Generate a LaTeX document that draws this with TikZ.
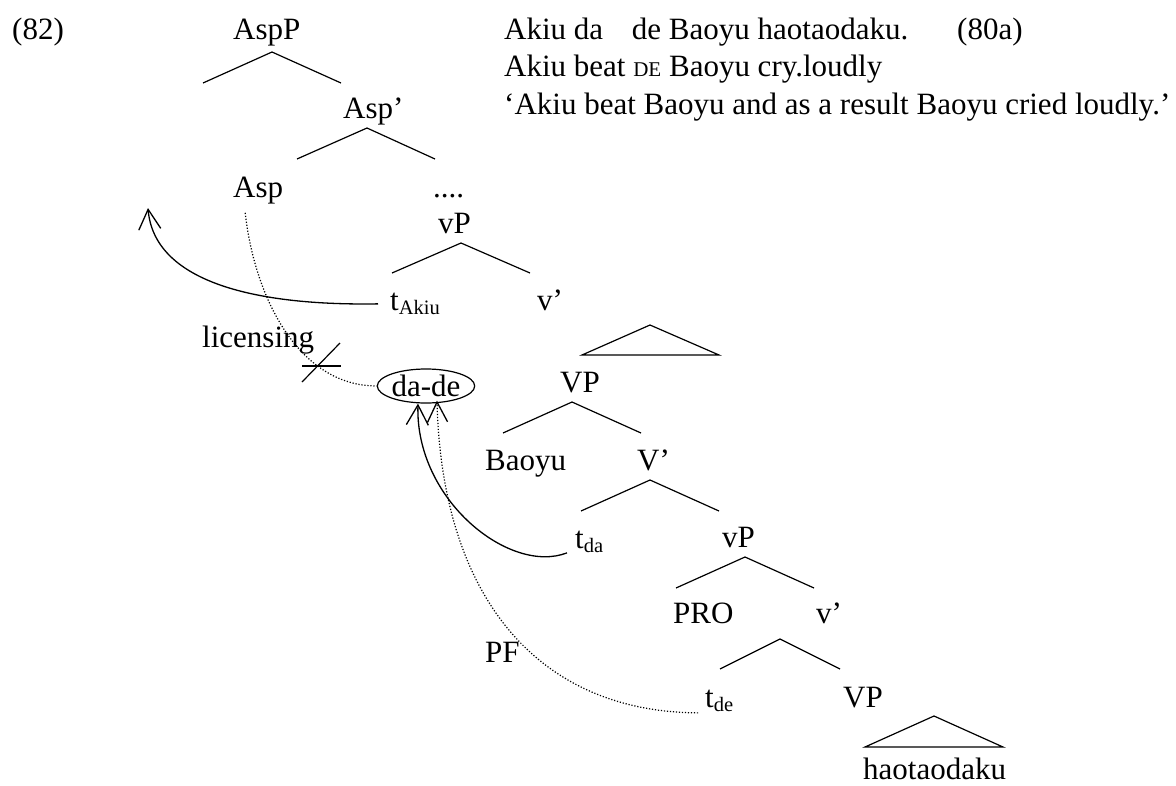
\documentclass[tikz,border=0pt]{standalone}
\usepackage{fontspec}
\setmainfont{Liberation Serif}
\usetikzlibrary{shapes.geometric,arrows.meta}
\newcommand{\lsub}[1]{\raisebox{-0.16em}{\fontsize{20.5}{22}\selectfont #1}}
\newcommand{\mybranch}[4]{%
  \coordinate (#1t) at #2; \coordinate (#1l) at #3; \coordinate (#1r) at #4;
  \draw[br] (#1l) -- (#1t) -- (#1r);}
\newcommand{\mytri}[4]{%
  \coordinate (#1t) at #2; \coordinate (#1l) at #3; \coordinate (#1r) at #4;
  \draw[br] (#1l) -- (#1t) -- (#1r) -- cycle;}
\begin{document}
\begin{tikzpicture}[x=1pt,y=-1pt,
  every node/.style={font=\fontsize{31}{38}\selectfont, inner sep=0pt},
  lbl/.style={anchor=base west},
  br/.style={line width=1.2pt, line join=miter},
  mv/.style={line width=1.3pt, -{Straight Barb[length=20pt,width=22pt,line width=1.3pt]}},
  dotl/.style={line width=1.2pt, dash pattern=on 1.2pt off 1.8pt},
  dota/.style={dotl, -{Straight Barb[length=20pt,width=20pt,line width=1.3pt]}},
  circ/.style={ellipse, draw, line width=1.2pt, minimum width=97pt, minimum height=34pt, inner sep=0pt}]
\useasboundingbox (0,0) rectangle (1176,785);

% example text
\node[lbl] (ex) at (12,39) {(82)};
\node[lbl] (g1) at (504,39) {Akiu da\hspace*{21pt} de Baoyu haotaodaku.};
\node[lbl] (num) at (957,39) {(80a)};
\node[lbl] (g2) at (504,76) {Akiu beat {\fontsize{21}{24}\selectfont DE} Baoyu cry.loudly};
\node[lbl] (g3) at (504,114) {‘Akiu beat Baoyu and as a result Baoyu cried loudly.’};

% tree labels
\node[lbl] (AspP) at (233,39) {AspP};
\node[lbl] (Aspbar) at (343,118) {Asp’};
\node[lbl] (Asp) at (233,197) {Asp};
\node[lbl] (dots) at (433,197) {....};
\node[lbl] (vP1) at (438,233) {vP};
\node[lbl] (tAkiu) at (390,310) {t\lsub{Akiu}};
\node[lbl] (vbar1) at (537,310) {v’};
\node[circ] (dade) at (426,386) {da-de};
\node[lbl] (VP1) at (560,392) {VP};
\node[lbl] (Baoyu) at (485,470) {Baoyu};
\node[lbl] (Vbar) at (637,470) {V’};
\node[lbl] (tda) at (575,548) {t\lsub{da}};
\node[lbl] (vP2) at (722,547) {vP};
\node[lbl] (PRO) at (673,623) {PRO};
\node[lbl] (vbar2) at (816,623) {v’};
\node[lbl] (tde) at (705,707) {t\lsub{de}};
\node[lbl] (VP2) at (843,707) {VP};
\node[lbl] (hao) at (863,779) {haotaodaku};
\node[lbl] (PF) at (485,662) {PF};
\node[lbl] (lic) at (202,347) {licensing};

% branches
\mybranch{b1}{(272,52)}{(203,83)}{(341,83)}
\mybranch{b2}{(367,128)}{(297,159)}{(435,159)}
\mybranch{b3}{(461,243)}{(392,273)}{(530,273)}
\mytri{t1}{(650,325)}{(582,355)}{(719,355)}
\mybranch{b4}{(572,402)}{(503,433)}{(641,433)}
\mybranch{b5}{(650,480)}{(581,511)}{(719,511)}
\mybranch{b6}{(745,557)}{(676,588)}{(814,588)}
\mybranch{b7}{(780,639)}{(720,669)}{(840,669)}
\mytri{t2}{(934,716)}{(865,747)}{(1003,747)}

% movement arrows
\coordinate (land) at (148,208);
\draw[mv] ([xshift=-12pt]tAkiu.west) .. controls (250,306) and (154,280) .. (land);
\draw[mv] ([shift={(-8,11)}]tda.west) .. controls (510,575) and (415,500) .. ([xshift=-8pt]dade.south);
\draw[dota] ([shift={(-7,12)}]tde.west) .. controls (540,712) and (442,600) .. ([shift={(11,-3)}]dade.south);

% licensing
\draw[dotl] ([shift={(-13,9)}]Asp.south) .. controls (255,300) and (300,386) .. (dade.west);
\coordinate (x1) at (302,382); \coordinate (x2) at (340,343);
\coordinate (x3) at (302,366); \coordinate (x4) at (341,366);
\draw[br] (x1) -- (x2);
\draw[br] (x3) -- (x4);
\end{tikzpicture}
\end{document}
